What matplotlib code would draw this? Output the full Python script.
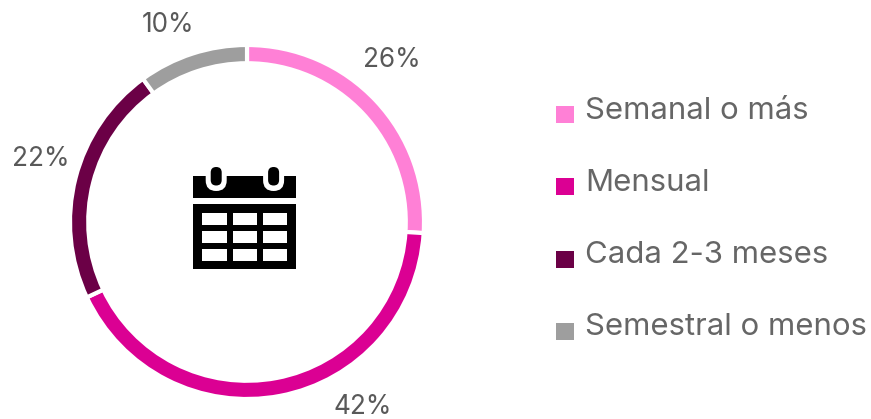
import matplotlib
matplotlib.use("Agg")
import matplotlib.pyplot as plt
from matplotlib.patches import Rectangle, FancyBboxPatch

categories = ["Semanal o más", "Mensual", "Cada 2-3 meses", "Semestral o menos"]
values = [26, 42, 22, 10]
colors = ["#FF80D6", "#DB0093", "#6B0046", "#9E9E9E"]

plt.rcParams["font.family"] = ["Inter", "DejaVu Sans"]

W, H = 871, 419
fig = plt.figure(figsize=(W / 100, H / 100), dpi=100)

# ring, placed by pixels so it lines up with the reference
ax = fig.add_axes([70 / W, (H - 399) / H, 354 / W, 354 / H])
ax.pie(values, colors=colors, startangle=90, counterclock=False, radius=1,
       wedgeprops=dict(width=0.103, edgecolor="white", linewidth=3))
ax.set_xlim(-1, 1)
ax.set_ylim(-1, 1)

# overlay in image pixels for labels, legend and icon
ov = fig.add_axes([0, 0, 1, 1])
ov.set_xlim(0, W)
ov.set_ylim(H, 0)
ov.axis("off")
ov.patch.set_alpha(0)

label_pos = [(392, 60), (363, 407), (41, 159), (168, 25)]
for v, (x, y) in zip(values, label_pos):
    ov.text(x, y, f"{v}%", ha="center", va="center", fontsize=18.8, color="#595959")

legend_y = [114.5, 187, 259, 331]
for name, c, y in zip(categories, colors, legend_y):
    ov.add_patch(Rectangle((556, y - 8.5), 18, 17, facecolor=c, edgecolor="none"))
    ov.text(585, y - 4, name, ha="left", va="center", fontsize=22.4, color="#666666")

# calendar icon
ov.add_patch(Rectangle((193.3, 176), 102.7, 21.7, facecolor="black", edgecolor="none"))
ov.add_patch(Rectangle((193.3, 204), 102.7, 65.3, facecolor="black", edgecolor="none"))
for cx in [202.3, 232.7, 262.7]:
    for cy, ch in [(212.7, 12.3), (231, 11.7), (249, 11.7)]:
        ov.add_patch(Rectangle((cx, cy), 24.6, ch, facecolor="white", edgecolor="none"))
for rx in [216.2, 273.6]:
    ov.add_patch(FancyBboxPatch((rx - 5.5, 165), 11, 21, boxstyle="round,pad=5,rounding_size=10.5",
                                facecolor="white", edgecolor="none", clip_on=False))
    ov.add_patch(Rectangle((rx - 11, 160), 22, 16, facecolor="white", edgecolor="none"))
    ov.add_patch(FancyBboxPatch((rx - 3, 169.5), 6, 13.5, boxstyle="round,pad=2.5,rounding_size=5.5",
                                facecolor="black", edgecolor="none"))

fig.savefig("out.png", dpi=100)
